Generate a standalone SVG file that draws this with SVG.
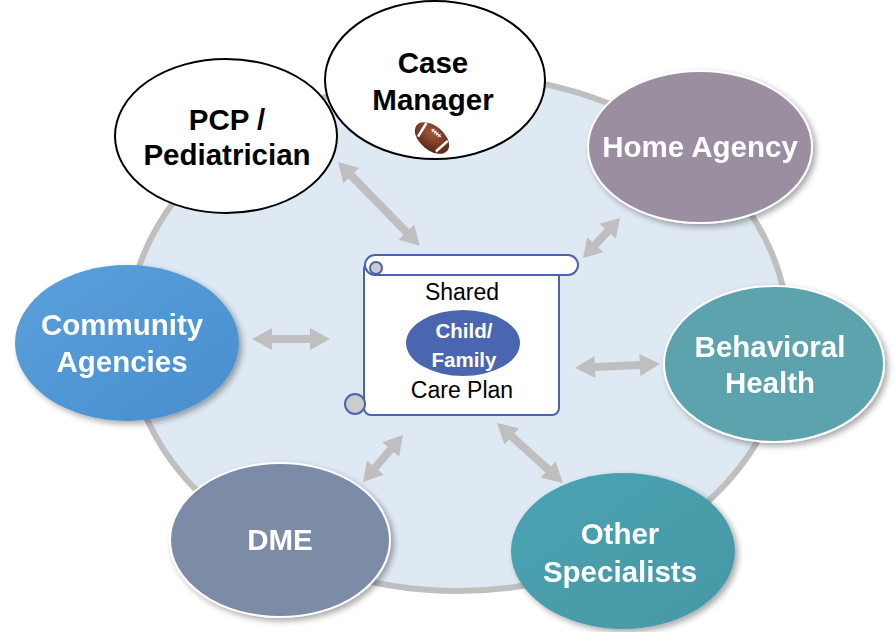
<svg xmlns="http://www.w3.org/2000/svg" width="894" height="632" viewBox="0 0 894 632">
<defs>
<filter id="sh" x="-20%" y="-20%" width="140%" height="140%">
<feGaussianBlur in="SourceAlpha" stdDeviation="3"/>
<feOffset dx="3" dy="3" result="b"/>
<feComponentTransfer><feFuncA type="linear" slope="0.35"/></feComponentTransfer>
<feMerge><feMergeNode/><feMergeNode in="SourceGraphic"/></feMerge>
</filter>
<linearGradient id="gCom" x1="0" y1="0" x2="1" y2="1">
<stop offset="0" stop-color="#58a0dc"/><stop offset="1" stop-color="#4a8ecd"/>
</linearGradient>
<linearGradient id="gOth" x1="0" y1="0" x2="1" y2="1">
<stop offset="0" stop-color="#4aa3b1"/><stop offset="1" stop-color="#4898a6"/>
</linearGradient>
<radialGradient id="gBall" cx="0.4" cy="0.35" r="0.7">
<stop offset="0" stop-color="#a0583a"/><stop offset="1" stop-color="#5a2614"/>
</radialGradient>
<style>
.lbl{font-family:"Liberation Sans",Arial,sans-serif;font-weight:bold;font-size:29.5px;text-anchor:middle}
.w{fill:#ffffff}
.k{fill:#000000}
.arr{fill:#bfbfbf}
.scr{fill:#ffffff;stroke:#4a63ad;stroke-width:2}
.curl{fill:#cccccc;stroke:#4a63ad;stroke-width:2}
.ctr{font-family:"Liberation Sans",Arial,sans-serif;font-size:23px;text-anchor:middle;fill:#000}
.cf{font-family:"Liberation Sans",Arial,sans-serif;font-weight:bold;font-size:20.5px;text-anchor:middle;fill:#fff}
</style>
</defs>
<rect width="894" height="632" fill="#ffffff"/>
<ellipse id="background" cx="458" cy="333" rx="330" ry="258" fill="#dfe9f4" stroke="#bfbfbf" stroke-width="6"/>

<g id="connectors">
<polygon class="arr" transform="translate(338,162) rotate(45.7)" points="0,0 19,-11 19,-4 98,-4 98,-11 117,0 98,11 98,4 19,4 19,11"/>
<polygon class="arr" transform="translate(252,339)" points="0,0 20,-11 20,-4 58,-4 58,-11 78,0 58,11 58,4 20,4 20,11"/>
<polygon class="arr" transform="translate(583,258) rotate(-47.2)" points="0,0 18,-11 18,-4 36.5,-4 36.5,-11 54.5,0 36.5,11 36.5,4 18,4 18,11"/>
<polygon class="arr" transform="translate(575,368) rotate(-2.7)" points="0,0 20,-11 20,-4 65,-4 65,-11 85,0 65,11 65,4 20,4 20,11"/>
<polygon class="arr" transform="translate(363,482) rotate(-49.6)" points="0,0 19,-11 19,-4 42.7,-4 42.7,-11 61.7,0 42.7,11 42.7,4 19,4 19,11"/>
<polygon class="arr" transform="translate(497,423) rotate(42.3)" points="0,0 20,-11 20,-4 69.2,-4 69.2,-11 89.2,0 69.2,11 69.2,4 20,4 20,11"/>
</g>

<g id="pcp">
<ellipse cx="226" cy="136" rx="111" ry="77" fill="#ffffff" stroke="#000" stroke-width="2"/>
<text class="lbl k" x="227" y="130">PCP /</text>
<text class="lbl k" x="227" y="165">Pediatrician</text>
</g>

<g id="case-manager">
<ellipse cx="435" cy="80" rx="110" ry="79" fill="#ffffff" stroke="#000" stroke-width="2"/>
<text class="lbl k" x="433" y="73">Case</text>
<text class="lbl k" x="433" y="110">Manager</text>
<g transform="translate(432,138) rotate(40)">
<ellipse cx="0" cy="0" rx="20" ry="12" fill="url(#gBall)"/>
<rect x="-14" y="-8" width="2.5" height="16" fill="#ffffff" transform="rotate(-8 -13 0)"/>
<rect x="11.5" y="-8" width="2.5" height="16" fill="#ffffff" transform="rotate(8 13 0)"/>
<line x1="-6" y1="-6.5" x2="6" y2="-6.5" stroke="#fff" stroke-width="1.2"/>
<line x1="-4" y1="-8.5" x2="-4" y2="-4.5" stroke="#fff" stroke-width="1"/>
<line x1="-1.3" y1="-8.5" x2="-1.3" y2="-4.5" stroke="#fff" stroke-width="1"/>
<line x1="1.3" y1="-8.5" x2="1.3" y2="-4.5" stroke="#fff" stroke-width="1"/>
<line x1="4" y1="-8.5" x2="4" y2="-4.5" stroke="#fff" stroke-width="1"/>
</g>
</g>

<g id="home-agency" filter="url(#sh)">
<ellipse cx="700" cy="147" rx="112" ry="76" fill="#9b8ea0" stroke="#ffffff" stroke-width="2"/>
<text class="lbl w" x="700" y="157">Home Agency</text>
</g>

<g id="behavioral-health" filter="url(#sh)">
<ellipse cx="774" cy="364" rx="110" ry="78" fill="#5ba3ae" stroke="#ffffff" stroke-width="2"/>
<text class="lbl w" x="770" y="357">Behavioral</text>
<text class="lbl w" x="770" y="393">Health</text>
</g>

<g id="community-agencies" filter="url(#sh)">
<ellipse cx="127" cy="343" rx="112" ry="78" fill="url(#gCom)"/>
<text class="lbl w" x="122" y="335">Community</text>
<text class="lbl w" x="122" y="372">Agencies</text>
</g>

<g id="dme" filter="url(#sh)">
<ellipse cx="280" cy="540" rx="110" ry="77" fill="#7b8ba6" stroke="#ffffff" stroke-width="2"/>
<text class="lbl w" x="280" y="550">DME</text>
</g>

<g id="other-specialists" filter="url(#sh)">
<ellipse cx="623" cy="551" rx="112" ry="78" fill="url(#gOth)"/>
<text class="lbl w" x="620" y="544">Other</text>
<text class="lbl w" x="620" y="582">Specialists</text>
</g>

<g id="care-plan">
<rect class="scr" x="364" y="262" width="195" height="153" rx="7"/>
<rect class="scr" x="365" y="255" width="213" height="20" rx="10"/>
<circle class="curl" cx="376" cy="268" r="6"/>
<circle class="curl" cx="355" cy="404" r="10"/>
<text class="ctr" x="462" y="300">Shared</text>
<ellipse cx="463" cy="343" rx="57" ry="33" fill="#4a66b0"/>
<text class="cf" x="464" y="338">Child/</text>
<text class="cf" x="464" y="367">Family</text>
<text class="ctr" x="462" y="398">Care Plan</text>
</g>
</svg>
